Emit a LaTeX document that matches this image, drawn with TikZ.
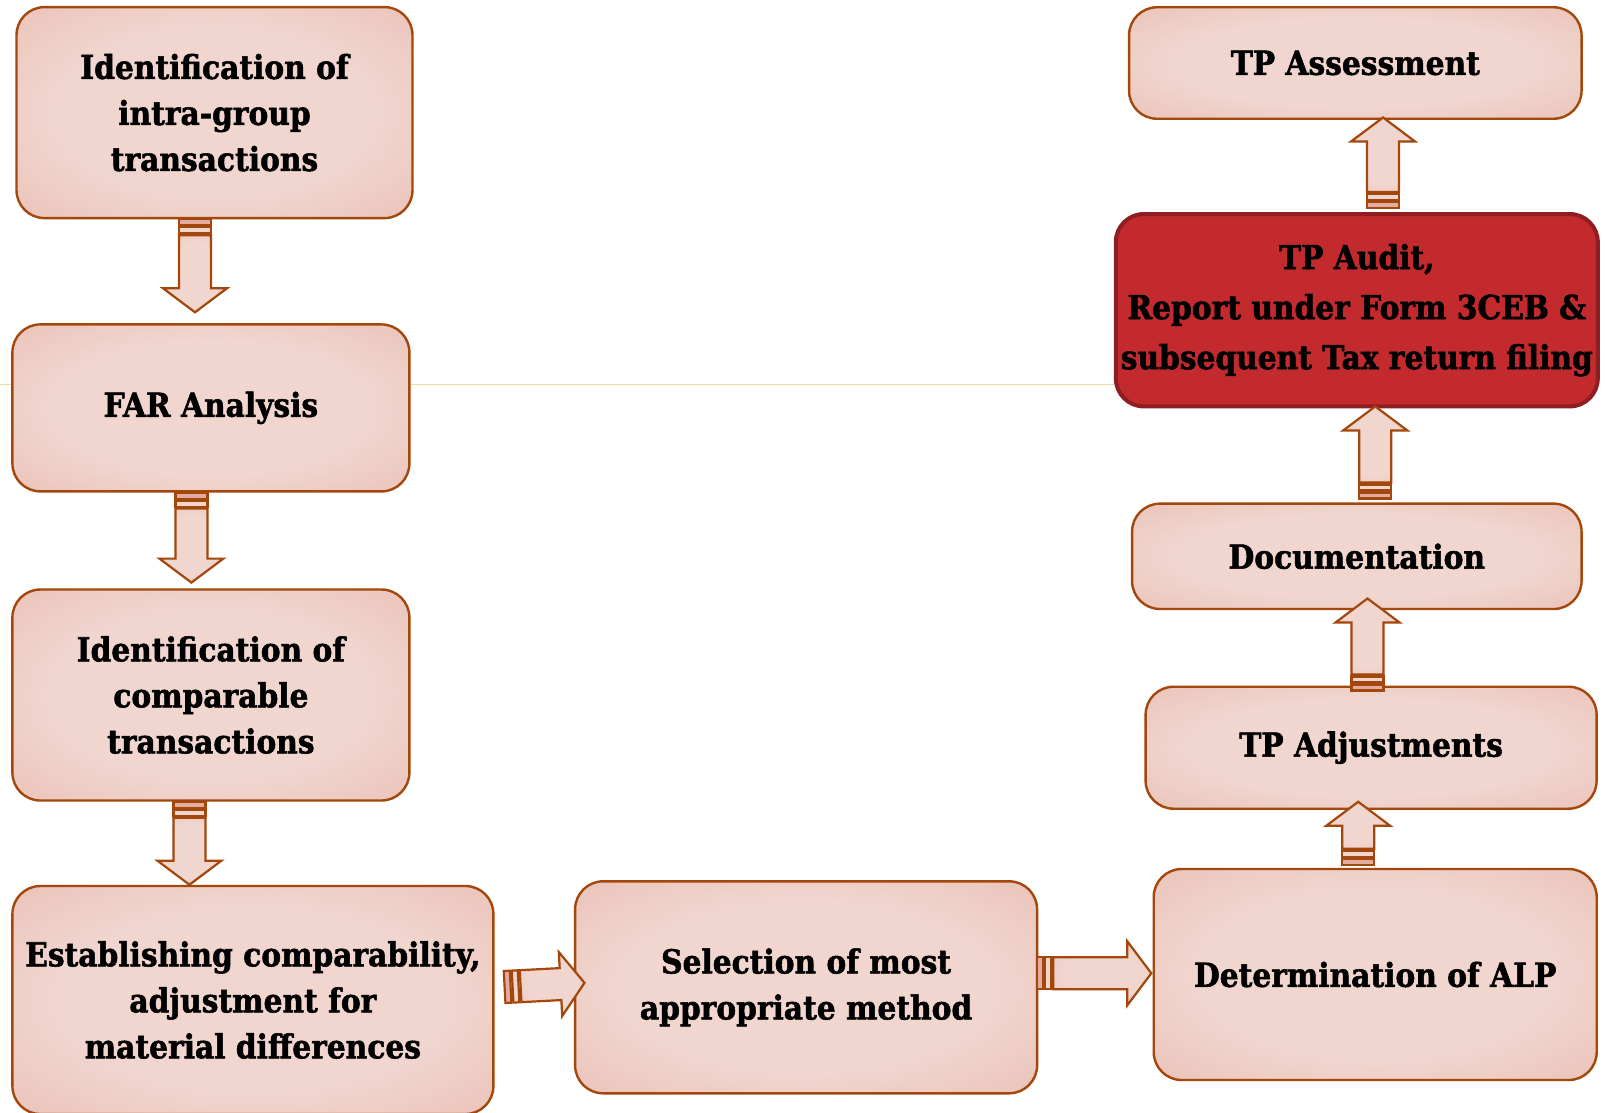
\documentclass[tikz,border=0pt]{standalone}
\usepackage{fontspec}
\setmainfont[FakeStretch=0.9,FakeBold=1.6]{DejaVu Serif}
\usetikzlibrary{calc}
\definecolor{boxin}{RGB}{240,214,207}
\definecolor{boxout}{RGB}{228,172,160}
\definecolor{brownline}{RGB}{163,71,12}
\definecolor{auditfill}{RGB}{194,42,46}
\definecolor{auditline}{RGB}{143,30,34}
\definecolor{lineyel}{RGB}{234,220,165}
\pgfdeclareradialshading{boxshade}{\pgfpoint{0bp}{0bp}}{color(0bp)=(boxin); color(20bp)=(boxin); color(55bp)=(boxout); color(75bp)=(boxout)}
\tikzset{
  box/.style={rounded corners=28pt, draw=brownline, line width=2.4pt, shading=boxshade,
    align=center, font=\fontsize{33}{46}\selectfont\bfseries, inner sep=0pt},
  auditbox/.style={rounded corners=28pt, draw=auditline, fill=auditfill, line width=4pt,
    align=center, font=\fontsize{33}{50}\selectfont\bfseries, inner sep=0pt},
  arrline/.style={draw=brownline, line width=2.2pt, line join=miter},
}
\newcommand\blockarr[3]{%
  \begin{scope}[shift={#1},rotate=#2]
    \draw[arrline, fill=boxout] (0,-16) rectangle (6,16);
    \draw[arrline, fill=boxin] (8,-16) rectangle (14,16);
    \draw[arrline, shading=boxshade] (16,-16) -- (#3-24,-16) -- (#3-24,-32) -- (#3,0)
      -- (#3-24,32) -- (#3-24,16) -- (16,16) -- cycle;
  \end{scope}}
\begin{document}
\begin{tikzpicture}[x=1pt,y=-1pt]
\useasboundingbox (0,0) rectangle (1605,1112);
\clip (0,0) rectangle (1605,1112);
\fill[white] (0,0) rectangle (1605,1112);
\coordinate (l0) at (0,384);
% boxes
\node[box, minimum width=396pt, minimum height=211pt] (b1) at (214.5,112.6) {Identification of\\intra-group\\transactions};
\node[box, minimum width=397pt, minimum height=167pt] (b2) at (210.9,407.9) {FAR Analysis};
\node[box, minimum width=397pt, minimum height=211pt] (b3) at (210.9,695) {Identification of\\comparable\\transactions};
\node[box, minimum width=481pt, minimum height=228pt] (b4) at (252.9,1000) {Establishing comparability,\\adjustment for\\material differences};
\node[box, minimum width=462pt, minimum height=212pt] (b5) at (806.1,987.3) {Selection of most\\appropriate method};
\node[box, minimum width=443pt, minimum height=211pt] (b6) at (1375.2,974.5) {Determination of ALP};
\node[box, minimum width=451pt, minimum height=122pt] (b7) at (1371.1,747.7) {TP Adjustments};
\node[box, minimum width=449.5pt, minimum height=105.4pt] (b8) at (1356.8,556.3) {Documentation};
\node[auditbox, minimum width=482pt, minimum height=192.4pt] (b9) at (1356.8,310.2) {TP Audit,\\Report under Form 3CEB \&\\subsequent Tax return filing};
\node[box, minimum width=452.5pt, minimum height=111.5pt] (b10) at (1355.3,63) {TP Assessment};
% stray guide line
\draw[lineyel, line width=0.9pt] (l0) -- (b2.west |- l0);
\draw[lineyel, line width=0.9pt] (b2.east |- l0) -- (b9.west |- l0);
% block arrows
\blockarr{($(b1.south)+(-19.5,0)$)}{-90}{93}
\blockarr{($(b2.south)+(-19.5,0)$)}{-90}{90}
\blockarr{($(b3.south)+(-21.5,0)$)}{-90}{83}
\blockarr{($(b4.east)+(10,-13)$)}{3}{80}
\blockarr{($(b5.east)+(-1,-14)$)}{0}{114}
\blockarr{($(b6.north)+(-17,-3)$)}{90}{63}
\blockarr{($(b7.north)+(-3.6,5)$)}{90}{92}
\blockarr{($(b8.north)+(18.4,-4)$)}{90}{92}
\blockarr{($(b9.north)+(26.2,-4)$)}{90}{90.5}
\end{tikzpicture}
\end{document}
